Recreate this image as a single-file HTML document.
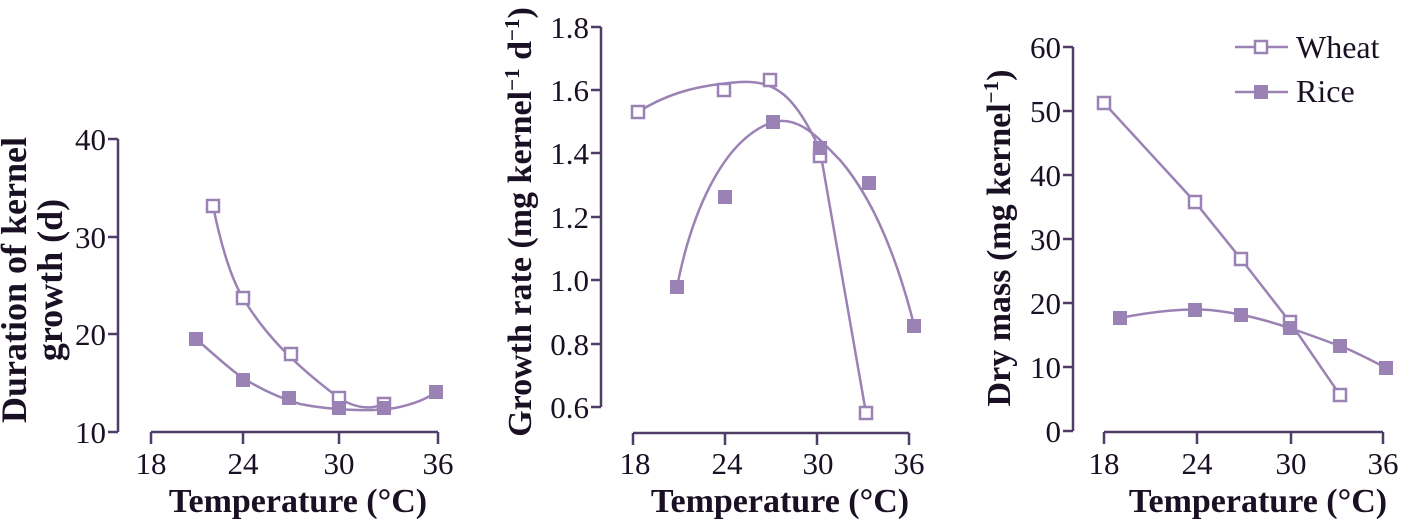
<!DOCTYPE html>
<html><head><meta charset="utf-8"><style>
html,body{margin:0;padding:0;background:#fff;}
svg{display:block;}
text{font-family:"Liberation Serif",serif;fill:#1a1024;}
.t{font-size:31px;}
.b{font-size:34px;font-weight:bold;}
</style></head><body>
<svg width="1402" height="521" viewBox="0 0 1402 521" xmlns="http://www.w3.org/2000/svg">
<g stroke="#4f3d68" stroke-width="2.5" fill="none">
<path d="M118,139 V432 M108,139 H118 M108,237 H118 M108,334 H118 M108,432 H118"/>
<path d="M151,432 H438 M151,432 V444 M243,432 V444 M339,432 V444 M438,432 V444"/>
<path d="M601,27 V407 M591,27 H601 M591,90 H601 M591,153 H601 M591,217 H601 M591,280 H601 M591,344 H601 M591,407 H601"/>
<path d="M633,433 H909 M633,433 V445 M725,433 V445 M817,433 V445 M909,433 V445"/>
<path d="M1073,47 V431 M1063,47 H1073 M1063,111 H1073 M1063,175 H1073 M1063,239 H1073 M1063,303 H1073 M1063,367 H1073 M1063,431 H1073"/>
<path d="M1104,432 H1383 M1104,432 V444 M1197,432 V444 M1291,432 V444 M1383,432 V444"/>
</g>
<g stroke="#9b82b5" stroke-width="2.5" fill="none">
<path d="M213,206 C222,250 232,280 243,298 C265,335 295,365 339,398 C355,408 370,410 384,404"/>
<path d="M196,339 C215,355 228,368 243,378 C262,390 280,398 300,404 C330,410 370,412 395,408 C415,404 428,398 436,392"/>
<path d="M638,112 C670,92 700,85 740,82 C775,80 795,95 820,150 L866,413"/>
<path d="M677,287 C690,220 720,140 773,122 C800,115 820,140 840,160 C870,195 895,250 914,325"/>
<path d="M1104,103 L1195,202 L1241,259 L1290,322 L1340,395"/>
<path d="M1120,318 C1150,312 1180,308 1210,310 C1240,313 1265,320 1290,328 C1310,335 1330,342 1350,350 C1365,357 1375,362 1386,368"/>
<path d="M1235,47 H1288 M1235,92 H1288"/>
</g>
<g fill="#fff" stroke="#9b82b5" stroke-width="2.5">
<rect x="207" y="200" width="12" height="12"/><rect x="237" y="292" width="12" height="12"/><rect x="285" y="348" width="12" height="12"/><rect x="333" y="392" width="12" height="12"/><rect x="378" y="398" width="12" height="12"/>
<rect x="632" y="106" width="12" height="12"/><rect x="718" y="84" width="12" height="12"/><rect x="764" y="74" width="12" height="12"/><rect x="814" y="150" width="12" height="12"/><rect x="860" y="407" width="12" height="12"/>
<rect x="1098" y="97" width="12" height="12"/><rect x="1189" y="196" width="12" height="12"/><rect x="1235" y="253" width="12" height="12"/><rect x="1284" y="316" width="12" height="12"/><rect x="1334" y="389" width="12" height="12"/>
<rect x="1255" y="41" width="12" height="12"/>
</g>
<g fill="#9b82b5">
<rect x="189" y="332" width="14" height="14"/><rect x="236" y="373" width="14" height="14"/><rect x="282" y="391" width="14" height="14"/><rect x="332" y="401" width="14" height="14"/><rect x="377" y="401" width="14" height="14"/><rect x="429" y="385" width="14" height="14"/>
<rect x="670" y="280" width="14" height="14"/><rect x="718" y="190" width="14" height="14"/><rect x="766" y="115" width="14" height="14"/><rect x="813" y="141" width="14" height="14"/><rect x="862" y="176" width="14" height="14"/><rect x="907" y="319" width="14" height="14"/>
<rect x="1113" y="311" width="14" height="14"/><rect x="1188" y="303" width="14" height="14"/><rect x="1234" y="308" width="14" height="14"/><rect x="1283" y="321" width="14" height="14"/><rect x="1333" y="339" width="14" height="14"/><rect x="1379" y="361" width="14" height="14"/>
<rect x="1254" y="85" width="14" height="14"/>
</g>
<g class="t" text-anchor="end">
<text x="106" y="150">40</text><text x="106" y="248">30</text><text x="106" y="345">20</text><text x="106" y="443">10</text>
<text x="589" y="38">1.8</text><text x="589" y="101">1.6</text><text x="589" y="164">1.4</text><text x="589" y="228">1.2</text><text x="589" y="291">1.0</text><text x="589" y="355">0.8</text><text x="589" y="418">0.6</text>
<text x="1061" y="58">60</text><text x="1061" y="122">50</text><text x="1061" y="186">40</text><text x="1061" y="250">30</text><text x="1061" y="314">20</text><text x="1061" y="378">10</text><text x="1061" y="442">0</text>
</g>
<g class="t" text-anchor="middle">
<text x="151" y="474">18</text><text x="243" y="474">24</text><text x="339" y="474">30</text><text x="438" y="474">36</text>
<text x="635" y="474">18</text><text x="727" y="474">24</text><text x="818" y="474">30</text><text x="909" y="474">36</text>
<text x="1104" y="474">18</text><text x="1197" y="474">24</text><text x="1291" y="474">30</text><text x="1383" y="474">36</text>
</g>
<text style="font-size:32px" x="1296" y="58">Wheat</text>
<text style="font-size:32px" x="1296" y="102">Rice</text>
<g class="b" text-anchor="middle">
<text x="298" y="512">Temperature (°C)</text>
<text x="780" y="512">Temperature (°C)</text>
<text x="1258" y="512">Temperature (°C)</text>
<text style="font-size:36px" transform="translate(26,280) rotate(-90)">Duration of kernel</text>
<text style="font-size:36px" transform="translate(62,280) rotate(-90)">growth (d)</text>
<text transform="translate(531,222) rotate(-90)">Growth rate (mg kernel<tspan font-size="21" dy="-12">−1</tspan><tspan dy="12"> d</tspan><tspan font-size="21" dy="-12">−1</tspan><tspan dy="12">)</tspan></text>
<text transform="translate(1010,238) rotate(-90)">Dry mass (mg kernel<tspan font-size="21" dy="-12">−1</tspan><tspan dy="12">)</tspan></text>
</g>
</svg>
</body></html>
